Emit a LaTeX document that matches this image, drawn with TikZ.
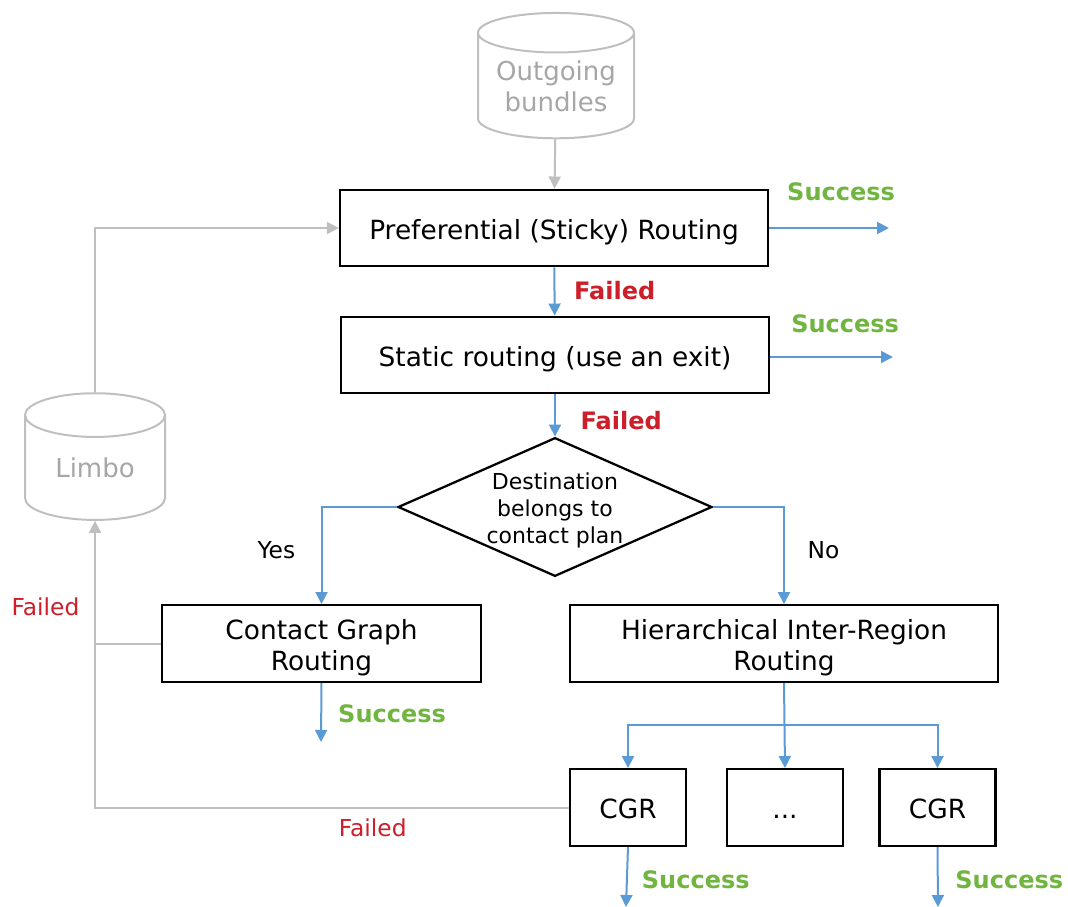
\documentclass[tikz,border=0pt]{standalone}
\usepackage{fontspec}
\setmainfont{DejaVu Sans}
\usepackage{xcolor}
\definecolor{colorFlow}{HTML}{5B9BD5}
\definecolor{colorOk}{HTML}{70B53F}
\definecolor{colorKo}{HTML}{CC1F2A}
\definecolor{colorStore}{HTML}{BFBFBF}
\colorlet{colorStoreText}{black!35}
\usetikzlibrary{arrows.meta, shapes.geometric, positioning}
\tikzset{
  box/.style={draw, line width=1.7pt, rectangle, align=center, inner sep=0pt, minimum width=321pt, minimum height=57.5pt, text height=16.5pt, text depth=0pt, font=\fontsize{19.8pt}{23pt}\selectfont},
  box2/.style={box, text height=40.5pt},
  sbox/.style={box, minimum width=87pt},
  dec/.style={draw, line width=1.7pt, diamond, aspect=2.26, align=center, inner sep=0pt, minimum width=235.5pt, minimum height=104pt, text height=54pt, text depth=0pt, font=\fontsize{16.5pt}{20pt}\selectfont},
  db/.style={draw=colorStore, text=colorStoreText, cylinder, shape border rotate=90, aspect=0.55, align=center, inner sep=0pt, minimum width=117pt, minimum height=94pt, font=\fontsize{19.5pt}{23pt}\selectfont},
  flow/.style={->, colorFlow},
  back/.style={->, colorStore},
  ok/.style={text=colorOk, inner sep=0pt, font=\fontsize{18pt}{20pt}\selectfont\bfseries},
  ko/.style={text=colorKo, inner sep=0pt, font=\fontsize{18pt}{20pt}\selectfont\bfseries},
  kolite/.style={text=colorKo, inner sep=0pt, font=\fontsize{17.5pt}{20pt}\selectfont},
  lbl/.style={text=black, inner sep=0pt, font=\fontsize{17.5pt}{20pt}\selectfont}
}

\begin{document}
\begin{tikzpicture}[x=0.75pt, y=-0.75pt, >={Triangle[length=9pt,width=9pt]}, line width=1.5pt]
\useasboundingbox (0,0) rectangle (1068,907);
\node[db, aspect=0.33] (out) at (556,86) {Outgoing\\bundles};
\node[db, minimum width=105pt, minimum height=95pt] (limbo) at (95,468) {Limbo};
\node[box] (pref) at (554,228) {Preferential (Sticky) Routing};
\node[box] (stat) at (555,355) {Static routing (use an exit)};
\node[dec] (dest) at (555,507) {Destination\\belongs to\\contact plan};
\node[box2, minimum width=239pt] (cg) at (321.5,643.5) {Contact Graph\\Routing};
\node[box2] (hir) at (784,643.5) {Hierarchical Inter-Region\\Routing};
\node[sbox] (c1) at (628,807.5) {CGR};
\node[sbox] (dots) at (785,807.5) {...};
\node[sbox] (c2) at (937.5,807.5) {CGR};
\coordinate (prefok) at (889,228);
\coordinate (statok) at (893,357);
\coordinate (cgok) at (321,742);
\coordinate (c1ok) at (626,907);
\coordinate (c2ok) at (938,907);
\coordinate (br) at (784,725);
\draw[back] (out) -- (pref);
\draw[back] (limbo.north) |- (pref.west);
\draw[flow] (pref) -- node[ko, pos=0.49, right=14pt]{Failed} (stat);
\draw[flow] (stat) -- node[ko, pos=0.61, right=18.5pt]{Failed} (dest);
\draw[flow] (pref.east) -- node[ok, pos=0.6, above=19.5pt]{Success} (prefok);
\draw[flow] (stat.east |- statok) -- node[ok, pos=0.61, above=17.5pt]{Success} (statok);
\draw[flow] (dest.west) -| node[lbl, pos=0.72, left=19pt]{Yes} (cg.north);
\draw[flow] (dest.east) -| node[lbl, pos=0.72, right=17pt]{No} (hir.north);
\draw[flow] (cg.south) -- node[ok, pos=0.52, right=12pt]{Success} (cgok);
\draw[flow] (hir.south) -- (dots.north);
\draw[flow] (br) -| (c1.north);
\draw[flow] (br) -| (c2.north);
\draw[flow] (c1.south) -- node[ok, pos=0.54, right=10.5pt]{Success} (c1ok);
\draw[flow] (c2.south) -- node[ok, pos=0.54, right=12.5pt]{Success} (c2ok);
\draw[colorStore] (cg.west) -- (cg.west -| limbo.south);
\draw[back] (c1.west) -| node[kolite, pos=0.207, below=7.5pt]{Failed} node[kolite, pos=0.85, left=11pt]{Failed} (limbo.south);
\end{tikzpicture}
\end{document}
